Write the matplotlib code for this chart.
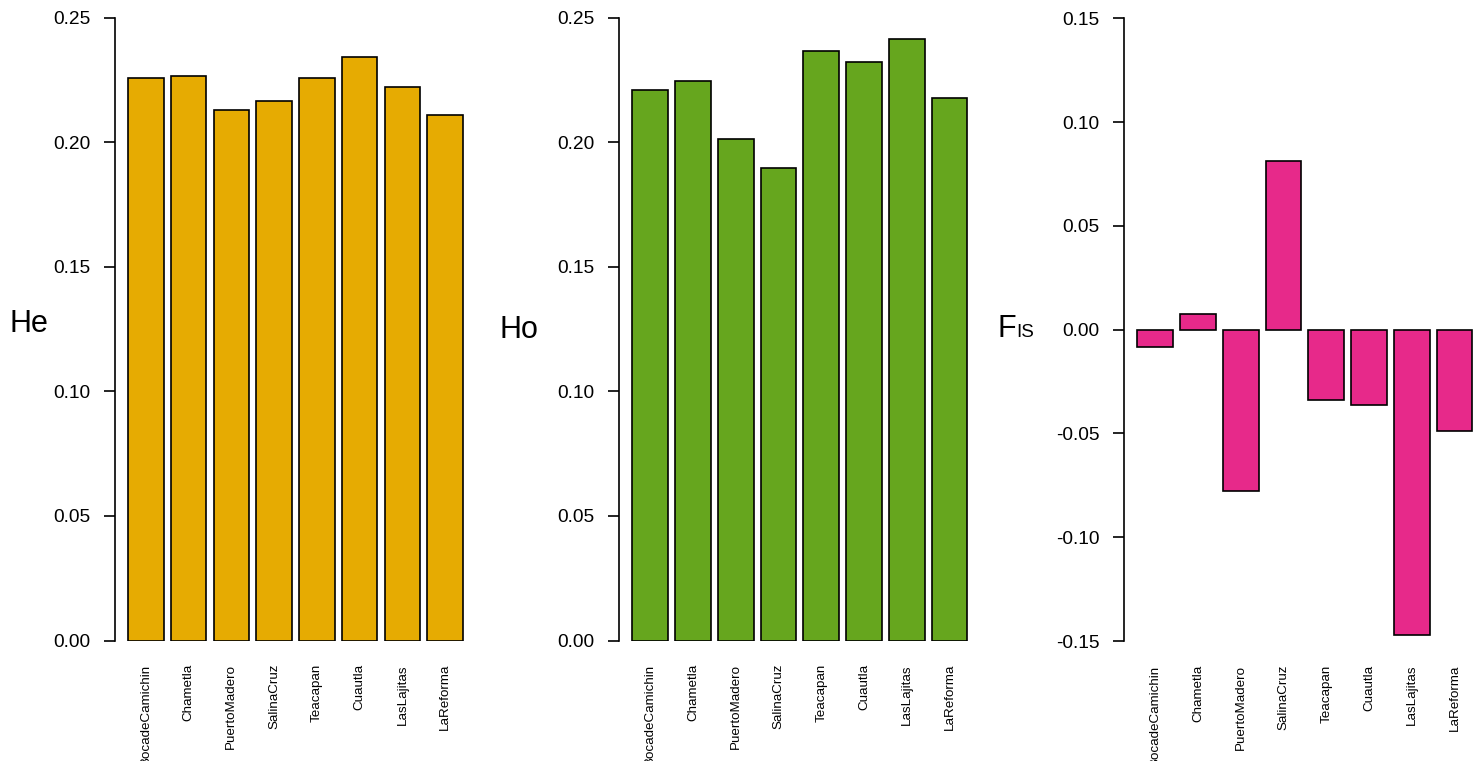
import numpy as np
import matplotlib.pyplot as plt

plt.rcParams['font.family'] = ['Liberation Sans', 'DejaVu Sans']

sites = ["BocadeCamichin", "Chametla", "PuertoMadero", "SalinaCruz",
         "Teacapan", "Cuautla", "LasLajitas", "LaReforma"]
he = [0.2256, 0.2264, 0.2131, 0.2164, 0.2256, 0.2344, 0.2220, 0.2108]
ho = [0.2209, 0.2247, 0.2012, 0.1897, 0.2367, 0.2323, 0.2414, 0.2178]
fis = [-0.0083, 0.0076, -0.0776, 0.0814, -0.0337, -0.0363, -0.1471, -0.0490]

he_ticks = [0.00, 0.05, 0.10, 0.15, 0.20, 0.25]
fis_ticks = [-0.15, -0.10, -0.05, 0.00, 0.05, 0.10, 0.15]

W, H = 1478, 761
fig = plt.figure(figsize=(W / 100, H / 100), dpi=100)

# barplot-like geometry: width 1, space 0.2, 4% padding on x
pos = 0.7 + 1.2 * np.arange(len(sites))
xlo, xhi = 0.2 - 0.376, 9.6 + 0.376
px_per_unit = 35.64
axw = (xhi - xlo) * px_per_unit


def panel(left_px, top_px, bot_px, vals, color, ticks):
    ax = fig.add_axes([left_px / W, 1 - bot_px / H, axw / W, (bot_px - top_px) / H])
    ax.bar(pos, vals, width=1, color=color, edgecolor='black', linewidth=1.2)
    ax.set_xlim(xlo, xhi)
    ax.set_ylim(ticks[0], ticks[-1])
    for s in ['top', 'right', 'bottom']:
        ax.spines[s].set_visible(False)
    ax.spines['left'].set_linewidth(1.2)
    ax.spines['left'].set_bounds(ticks[0], ticks[-1])
    ax.set_yticks(ticks)
    ax.set_yticklabels(['%.2f' % t for t in ticks])
    ax.tick_params(axis='y', length=8, width=1.2, pad=9.5, labelsize=13.8)
    ax.set_xticks(pos)
    ax.set_xticklabels(sites, rotation=90, va='top', fontsize=9.6)
    ax.tick_params(axis='x', length=0, pad=17)
    ax.patch.set_visible(False)
    return ax


panel(114.6, 17.7, 640.5, he, '#E6AB02', he_ticks)
panel(619.0, 17.7, 640.5, ho, '#66A61E', he_ticks)
panel(1124.0, 18.3, 641.0, fis, '#E7298A', fis_ticks)

# axis titles, written horizontally to the left of each panel
fig.text(10 / W, 1 - 332 / H, 'He', fontsize=22, va='baseline')
fig.text(500 / W, 1 - 338 / H, 'Ho', fontsize=22, va='baseline')
fig.text(997 / W, 1 - 337 / H, 'F', fontsize=22, va='baseline')
fig.text(1016 / W, 1 - 337 / H, 'IS', fontsize=13.5, va='baseline')

fig.savefig('out.png', dpi=100)
